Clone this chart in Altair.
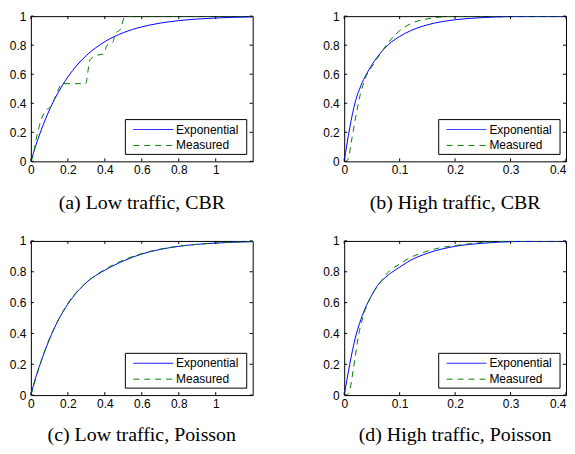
import altair as alt
import pandas as pd

SERIES = ["Exponential", "Measured"]
CAPTIONS = ["(a) Low traffic, CBR", "(b) High traffic, CBR",
            "(c) Low traffic, Poisson", "(d) High traffic, Poisson"]
Y_TICKS = [0, 0.2, 0.4, 0.6, 0.8, 1]
X_TICKS_LOW = [0, 0.2, 0.4, 0.6, 0.8, 1]
X_TICKS_HIGH = [0, 0.1, 0.2, 0.3, 0.4]
X_MAX_LOW = 1.2
X_MAX_HIGH = 0.4

# (a) Low traffic, CBR
a_exp_x = [0, 0.025, 0.05, 0.075, 0.1, 0.15, 0.2, 0.25, 0.3, 0.4, 0.5, 0.6, 0.7, 0.8, 0.9, 1.0, 1.1, 1.2]
a_exp_y = [0, 0.103, 0.195, 0.278, 0.353, 0.479, 0.581, 0.663, 0.729, 0.824, 0.886, 0.926, 0.952, 0.969, 0.980, 0.987, 0.992, 0.995]
a_mea_x = [0, 0.01, 0.03, 0.054, 0.08, 0.107, 0.134, 0.17, 0.296, 0.32, 0.358, 0.394, 0.412, 0.443, 0.457, 0.484, 0.51, 1.2]
a_mea_y = [0, 0.03, 0.16, 0.28, 0.35, 0.375, 0.45, 0.535, 0.535, 0.70, 0.73, 0.74, 0.80, 0.82, 0.88, 0.91, 1.0, 1.0]

# (b) High traffic, CBR
b_exp_x = [0, 0.005, 0.01, 0.02, 0.03, 0.04, 0.05, 0.06, 0.08, 0.1, 0.12, 0.15, 0.2, 0.25, 0.3, 0.4]
b_exp_y = [0, 0.12, 0.23, 0.41, 0.52, 0.60, 0.665, 0.72, 0.805, 0.86, 0.90, 0.94, 0.975, 0.99, 0.997, 1.0]
b_mea_x = [0, 0.004, 0.008, 0.014, 0.023, 0.029, 0.038, 0.053, 0.065, 0.08, 0.1, 0.124, 0.142, 0.172, 0.2, 0.4]
b_mea_y = [0, 0, 0.03, 0.16, 0.35, 0.46, 0.57, 0.67, 0.74, 0.82, 0.90, 0.955, 0.975, 0.993, 1.0, 1.0]

# (c) Low traffic, Poisson
c_exp_x = [0, 0.025, 0.05, 0.1, 0.15, 0.2, 0.3, 0.4, 0.5, 0.6, 0.7, 0.8, 0.9, 1.0, 1.1, 1.2]
c_exp_y = [0, 0.11, 0.20, 0.36, 0.49, 0.59, 0.73, 0.81, 0.87, 0.915, 0.945, 0.965, 0.978, 0.986, 0.992, 0.995]
c_mea_x = [0, 0.025, 0.05, 0.1, 0.15, 0.2, 0.3, 0.4, 0.5, 0.6, 0.7, 0.8, 0.9, 1.0, 1.1, 1.2]
c_mea_y = [0, 0.10, 0.20, 0.365, 0.49, 0.595, 0.73, 0.815, 0.875, 0.918, 0.947, 0.966, 0.978, 0.987, 0.992, 0.996]

# (d) High traffic, Poisson
d_exp_x = [0, 0.005, 0.01, 0.02, 0.03, 0.04, 0.05, 0.06, 0.08, 0.1, 0.12, 0.15, 0.2, 0.25, 0.3, 0.4]
d_exp_y = [0, 0.10, 0.20, 0.37, 0.49, 0.58, 0.65, 0.71, 0.78, 0.83, 0.875, 0.92, 0.965, 0.985, 0.995, 1.0]
d_mea_x = [0, 0.004, 0.008, 0.017, 0.026, 0.035, 0.047, 0.065, 0.083, 0.1, 0.118, 0.142, 0.172, 0.2, 0.25, 0.3, 0.4]
d_mea_y = [0, 0, 0.01, 0.18, 0.39, 0.52, 0.63, 0.73, 0.81, 0.85, 0.89, 0.925, 0.955, 0.97, 0.99, 0.998, 1.0]

BLUE = "#0000ff"
GREEN = "#008000"
DASH = [6, 5]
W = 223
SANS = "Liberation Sans"
SERIF = "Liberation Serif"


def panel(ex, ey, mx, my, xmax, xticks, caption, h, title_offset):
    xs = alt.Scale(domain=[0, xmax], nice=False, zero=False)
    ys = alt.Scale(domain=[0, 1], nice=False)
    xaxis = alt.Axis(
        values=xticks, format="~g", title=None, labelPadding=3,
        labelAlign={"condition": {"test": f"datum.value >= {xmax}", "value": "right"}, "value": "center"},
    )
    yaxis = alt.Axis(values=Y_TICKS, format="~g", title=None, labelPadding=5)

    exp_line = alt.Chart(pd.DataFrame({"x": ex, "y": ey})).mark_line(
        color=BLUE, strokeWidth=1, clip=True, interpolate="monotone"
    ).encode(x=alt.X("x:Q", scale=xs, axis=xaxis), y=alt.Y("y:Q", scale=ys, axis=yaxis))

    mea_line = alt.Chart(pd.DataFrame({"x": mx, "y": my})).mark_line(
        color=GREEN, strokeWidth=1, strokeDash=DASH, clip=True, interpolate="monotone"
    ).encode(x=alt.X("x:Q", scale=xs, axis=xaxis), y=alt.Y("y:Q", scale=ys, axis=yaxis))

    xt = pd.DataFrame({"t": xticks})
    yt = pd.DataFrame({"t": Y_TICKS})
    tick_b = alt.Chart(xt).mark_rule(color="black", strokeWidth=1).encode(
        x=alt.X("t:Q", scale=xs, axis=xaxis), y=alt.value(h), y2=alt.value(h - 3))
    tick_t = alt.Chart(xt).mark_rule(color="black", strokeWidth=1).encode(
        x=alt.X("t:Q", scale=xs, axis=xaxis), y=alt.value(0), y2=alt.value(3))
    tick_l = alt.Chart(yt).mark_rule(color="black", strokeWidth=1).encode(
        y=alt.Y("t:Q", scale=ys, axis=yaxis), x=alt.value(0), x2=alt.value(3))
    tick_r = alt.Chart(yt).mark_rule(color="black", strokeWidth=1).encode(
        y=alt.Y("t:Q", scale=ys, axis=yaxis), x=alt.value(W - 3), x2=alt.value(W))

    box = alt.Chart(pd.DataFrame({"a": [0]})).mark_rect(
        fill="white", stroke="black", strokeWidth=1
    ).encode(x=alt.value(95), x2=alt.value(217), y=alt.value(h - 42), y2=alt.value(h - 7))

    leg = [box]
    colors = [BLUE, GREEN]
    dashes = [[1, 0], DASH]
    for i, name in enumerate(SERIES):
        yy = h - 32 + 16 * i
        d = pd.DataFrame({"label": [name]})
        leg.append(alt.Chart(d).mark_rule(color=colors[i], strokeWidth=1, strokeDash=dashes[i]).encode(
            x=alt.value(103), x2=alt.value(143), y=alt.value(yy)))
        leg.append(alt.Chart(d).mark_text(
            align="left", baseline="middle", font=SANS, fontSize=12, color="black"
        ).encode(x=alt.value(146), y=alt.value(yy), text="label:N"))

    return alt.layer(exp_line, mea_line, tick_b, tick_t, tick_l, tick_r, *leg).properties(
        width=W, height=h,
        title=alt.TitleParams(caption, orient="bottom", anchor="middle", font=SERIF,
                              fontSize=20, fontWeight="normal", color="black", offset=title_offset),
    )


H1 = 146
H2 = 155
pa = panel(a_exp_x, a_exp_y, a_mea_x, a_mea_y, X_MAX_LOW, X_TICKS_LOW, CAPTIONS[0], H1, 18)
pb = panel(b_exp_x, b_exp_y, b_mea_x, b_mea_y, X_MAX_HIGH, X_TICKS_HIGH, CAPTIONS[1], H1, 18)
pc = panel(c_exp_x, c_exp_y, c_mea_x, c_mea_y, X_MAX_LOW, X_TICKS_LOW, CAPTIONS[2], H2, 16)
pd_ = panel(d_exp_x, d_exp_y, d_mea_x, d_mea_y, X_MAX_HIGH, X_TICKS_HIGH, CAPTIONS[3], H2, 16)

chart = alt.vconcat(
    alt.hconcat(pa, pb, spacing=68),
    alt.hconcat(pc, pd_, spacing=68),
    spacing=20,
).properties(
    padding={"top": 0, "left": 0, "right": 0, "bottom": 0},
    background="white",
).configure_view(stroke="black", strokeWidth=1).configure_axis(
    domain=False, ticks=False, grid=False, labelFont=SANS, labelFontSize=12,
    labelColor="black", labelFlush=False, labelOverlap=False, labelBound=False,
)

chart.save("out.html", embed_options={"renderer": "svg", "actions": False})
